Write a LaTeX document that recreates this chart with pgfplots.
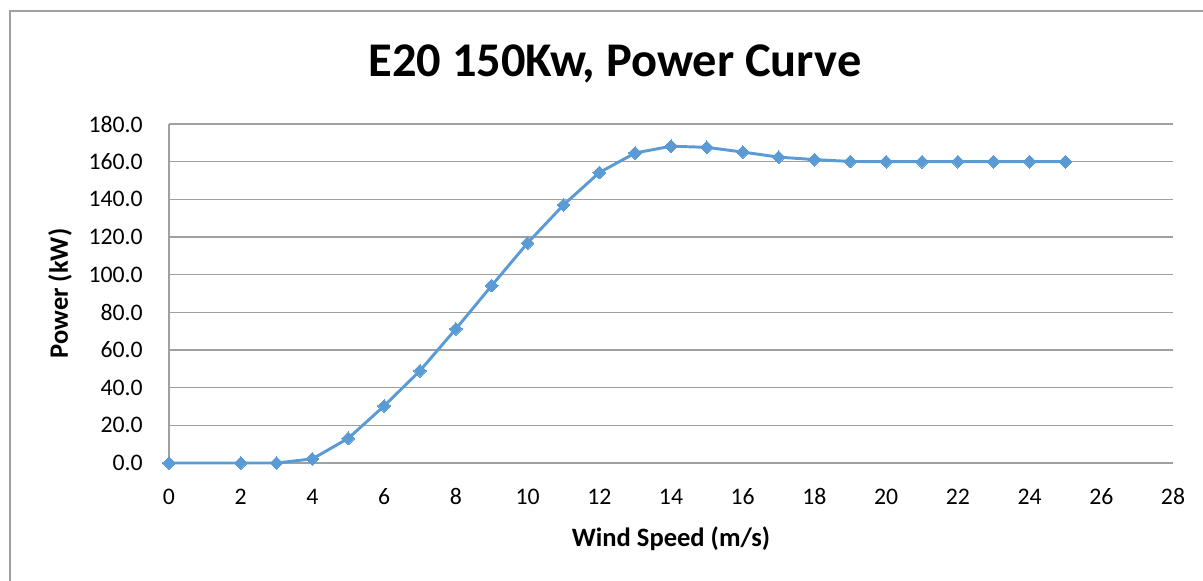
\documentclass[border=0pt]{standalone}
\usepackage{fontspec}
\setmainfont{Carlito}
\usepackage{pgfplots}
\pgfplotsset{compat=1.18}

\definecolor{xlblue}{HTML}{5B9BD5}
\definecolor{gridgray}{HTML}{A0A0A0}

% 1 px of the reference = 0.75pt
\begin{document}
\begin{tikzpicture}
\clip (0,0) rectangle (902.25pt,435.75pt);
\useasboundingbox (0,0) rectangle (902.25pt,435.75pt);
% chart frame (cropped on the right and bottom)
\draw[gridgray, line width=0.9pt] (7.5pt,-50pt) -- (7.5pt,427.5pt) -- (950pt,427.5pt);

\begin{axis}[
  at={(126.75pt,88.5pt)}, anchor=south west,
  width=753pt, height=254.25pt, scale only axis,
  xmin=0, xmax=28, ymin=0, ymax=180,
  xtick={0,2,...,28}, ytick={0,20,...,180},
  axis lines*=left,
  axis line style={draw=gridgray, line width=0.8pt},
  ymajorgrids, major grid style={draw=gridgray, line width=0.8pt},
  major tick length=0pt,
  tick label style={font=\fontsize{17.8}{20}\selectfont},
  /pgf/number format/assume math mode=true,
  yticklabel style={/pgf/number format/fixed, /pgf/number format/fixed zerofill,
    /pgf/number format/precision=1, anchor=east, inner sep=0pt, xshift=-19.5pt},
  xticklabel style={anchor=base, inner sep=0pt, yshift=-31.5pt},
  xlabel={Wind Speed (m/s)},
  ylabel={Power (kW)},
  label style={font=\bfseries\fontsize{19.9}{22}\selectfont},
  xlabel style={at={(axis description cs:0.5,0)}, anchor=base, yshift=-63pt},
  ylabel style={at={(axis description cs:0,0.5)}, anchor=center, yshift=81.75pt},
  clip=false,
]
\addplot[xlblue, line width=2.2pt, mark=square*,
  mark options={xlblue, solid, line width=0pt, rotate=45}, mark size=3.4pt]
  coordinates {
  (0,0) (2,0) (3,0) (4,2.2) (5,13.1) (6,30.3) (7,49.0) (8,71.2) (9,94.2)
  (10,116.8) (11,137.0) (12,154.2) (13,164.6) (14,168.2) (15,167.6)
  (16,165.1) (17,162.4) (18,161.1) (19,160.1) (20,160) (21,160)
  (22,160) (23,160) (24,160) (25,160)
  };
\end{axis}

\node[anchor=base, font=\bfseries\fontsize{36.3}{40}\selectfont] at (461.25pt,378pt)
  {E20 150Kw, Power Curve};
\end{tikzpicture}
\end{document}
